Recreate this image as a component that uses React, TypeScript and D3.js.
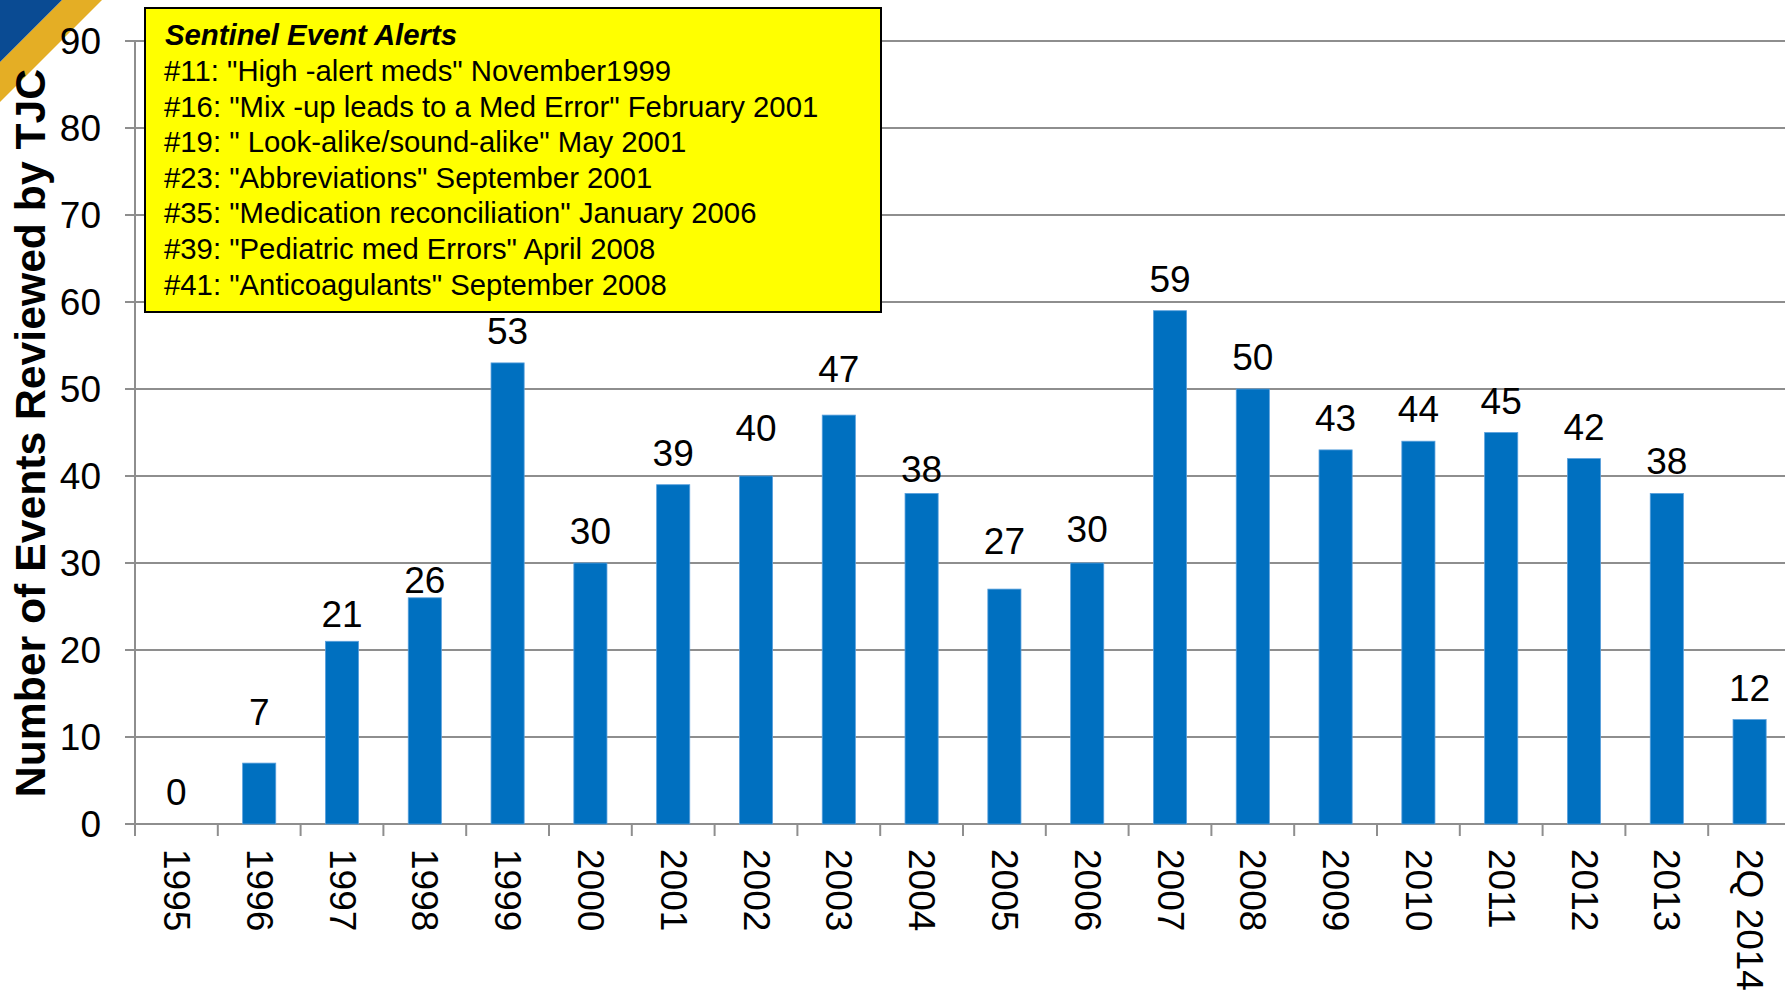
import React from "react";
import * as d3 from "d3";

const categories = ["1995","1996","1997","1998","1999","2000","2001","2002","2003","2004","2005","2006","2007","2008","2009","2010","2011","2012","2013","2Q 2014"];
const values = [0,7,21,26,53,30,39,40,47,38,27,30,59,50,43,44,45,42,38,12];
// manual label nudges (px, upward) as placed in the original slide
const labelNudge = [0,19,-5,-14,0,0,0,16,14,-8,16,2,0,0,0,0,0,0,0,0];
const yTicks = [0,10,20,30,40,50,60,70,80,90];
const yTitle = "Number of Events Reviewed by TJC";
const legendTitle = "Sentinel Event Alerts";
const legendLines = [
  '#11: "High -alert meds" November1999',
  '#16: "Mix -up leads to a Med Error" February 2001',
  '#19: " Look-alike/sound-alike" May 2001',
  '#23: "Abbreviations" September 2001',
  '#35: "Medication reconciliation" January 2006',
  '#39: "Pediatric med Errors" April 2008',
  '#41: "Anticoagulants" September 2008',
];

const W = 1785, H = 991;
const left = 135, step = 82.8;
const font = "Arial, 'Liberation Sans', Helvetica, sans-serif";

export default function App() {
  if (typeof document !== "undefined") document.body.style.margin = "0";
  const x = d3.scaleBand<string>().domain(categories).range([left, left + step * categories.length]).padding(0);
  const y = d3.scaleLinear().domain([0, 90]).range([824, 41]);
  const bw = x.step() * 0.4;
  const grid = "#8e8e8e";
  return (
    <svg width={W} height={H} style={{ position: "absolute", left: 0, top: 0, background: "#fff" }} fontFamily={font}>
      <rect x={0} y={0} width={W} height={H} fill="#fff" />
      {/* corner decoration */}
      <polygon points="62,0 102,0 0,102 0,62" fill="#E4AE25" />
      <polygon points="0,0 62,0 0,62" fill="#0A4B93" />
      {/* gridlines */}
      {yTicks.map((t) => (
        <line key={"g" + t} x1={125} x2={W} y1={y(t)} y2={y(t)} stroke={grid} strokeWidth={2} />
      ))}
      <line x1={left} x2={left} y1={y(90)} y2={y(0)} stroke={grid} strokeWidth={2} />
      {categories.map((c, i) => (
        <line key={"t" + c} x1={left + i * step} x2={left + i * step} y1={y(0)} y2={y(0) + 12} stroke={grid} strokeWidth={2} />
      ))}
      {yTicks.map((t) => (
        <text key={"yl" + t} x={101} y={y(t)} textAnchor="end" dominantBaseline="central" fontSize={37} fill="#000">{t}</text>
      ))}
      {/* bars */}
      {categories.map((c, i) => {
        const cx = (x(c) as number) + x.bandwidth() / 2;
        return (
          <g key={"b" + c}>
            <rect x={cx - bw / 2} y={y(values[i])} width={bw} height={y(0) - y(values[i])} fill="#0070C0" stroke="#5aa0dc" strokeWidth={0.8} />
            <text x={cx} y={y(values[i]) - 19 - labelNudge[i]} textAnchor="middle" fontSize={37} fill="#000">{values[i]}</text>
            <text transform={`translate(${cx},849) rotate(90)`} textAnchor="start" dominantBaseline="central" fontSize={37} fill="#000">{c}</text>
          </g>
        );
      })}
      {/* y title */}
      <text transform={`translate(30,433) rotate(-90)`} textAnchor="middle" dominantBaseline="central" fontSize={42.7} fontWeight="bold" fill="#000">{yTitle}</text>
      {/* legend box */}
      <rect x={145} y={8} width={736} height={304} fill="#FFFF00" stroke="#000" strokeWidth={2} />
      <text x={165} y={45} fontSize={29.3} fontWeight="bold" fontStyle="italic" fill="#000">{legendTitle}</text>
      {legendLines.map((l, i) => (
        <text key={"l" + i} x={164} y={81 + i * 35.6} fontSize={29.3} fill="#000" style={{ whiteSpace: "pre" }}>{l}</text>
      ))}
    </svg>
  );
}
